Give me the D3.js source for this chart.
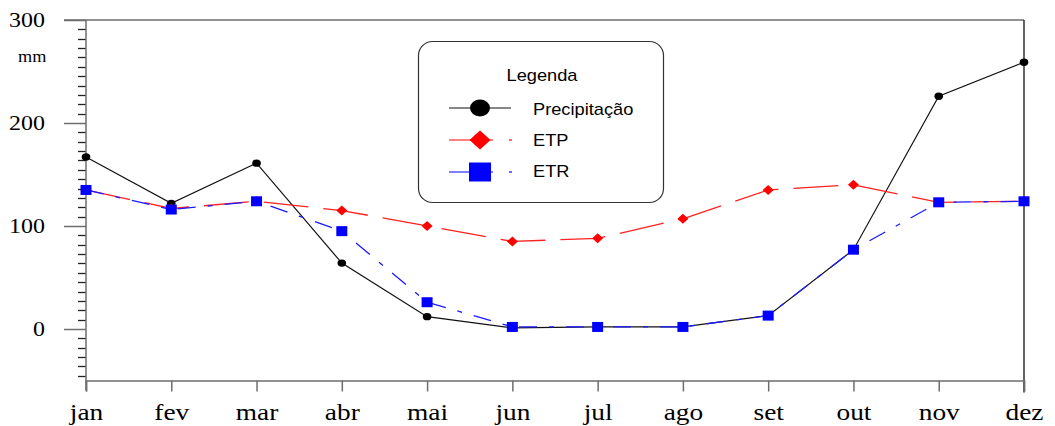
<!DOCTYPE html>
<html><head><meta charset="utf-8">
<script src="https://cdn.jsdelivr.net/npm/d3@7"></script>
<style>body{margin:0;background:#fff}svg{display:block}</style>
</head><body>
<svg id="c" width="1055" height="426"></svg>
<script>
const months = ["jan","fev","mar","abr","mai","jun","jul","ago","set","out","nov","dez"];
const precipitacao = [167,122,161,64,12,1,2,2,13,77,226,259];
const etp = [135,117,124,115,100,85,88,107,135,140,123,124];
const etr = [135,116,124,95,26,2,2,2,13,77,123,124];
const yTicks = [0,100,200,300];
const yUnit = "mm";
const legendTitle = "Legenda";
const seriesNames = ["Precipitação","ETP","ETR"];

const svg = d3.select("#c");
const x = d3.scalePoint().domain(months).range([86,1024]);
const y = d3.scaleLinear().domain([-50,300]).range([380.5,20]);
const axisCol = "#6e6e6e";
const serif = "'Liberation Serif','Times New Roman',serif";
const sans = "'Liberation Sans',Arial,sans-serif";
const SX = 1.14;

// frame lines
svg.append("line").attr("x1",64).attr("x2",1024).attr("y1",y(300)).attr("y2",y(300)).attr("stroke",axisCol).attr("stroke-width",1.5);
svg.append("line").attr("x1",1024).attr("x2",1024).attr("y1",y(300)).attr("y2",y(-50)+12).attr("stroke","#111").attr("stroke-width",1.3);

// left axis
const gy = svg.append("g").attr("transform","translate(86,0)")
  .call(d3.axisLeft(y).tickValues(yTicks).tickSize(22).tickFormat(d3.format("d")));
gy.select(".domain").remove();
gy.selectAll(".tick line").attr("stroke",axisCol).attr("stroke-width",1.5);
gy.selectAll(".tick text").attr("x",-41/SX).attr("transform",`scale(${SX},1)`)
  .attr("font-family",serif).attr("font-size",21).attr("fill","#000");
const step = 100/11;
const minor = [];
for (let k=-5; k<=33; k++) { const v = k*step; if (v>-50 && v<300 && k%11!==0) minor.push(v); }
svg.append("g").selectAll("line").data(minor).join("line")
  .attr("x1",78).attr("x2",86).attr("y1",d=>Math.round(y(d))+0.5).attr("y2",d=>Math.round(y(d))+0.5)
  .attr("stroke","#222").attr("stroke-width",1.3);
svg.append("line").attr("x1",86).attr("x2",86).attr("y1",y(300)).attr("y2",y(-50)+10).attr("stroke",axisCol).attr("stroke-width",1.5);
svg.append("text").attr("transform",`translate(18,62) scale(${SX},1)`).attr("font-family",serif).attr("font-size",16).text(yUnit);

// bottom axis
const gx = svg.append("g").attr("transform",`translate(0,${y(-50)})`)
  .call(d3.axisBottom(x).tickSize(11));
gx.select(".domain").attr("stroke",axisCol).attr("stroke-width",1.5);
gx.selectAll(".tick line").attr("stroke",axisCol).attr("stroke-width",1.5);
gx.selectAll(".tick text").attr("y",39.5).attr("dy",0).attr("transform",`scale(${SX},1)`)
  .attr("font-family",serif).attr("font-size",24).attr("fill","#000");

// lines
const line = d3.line().x((d,i)=>x(months[i])).y(d=>y(d));
svg.append("path").datum(precipitacao).attr("d",line).attr("fill","none").attr("stroke","#111").attr("stroke-width",1.2);
svg.append("path").datum(etp).attr("d",line).attr("fill","none").attr("stroke","#ff2020").attr("stroke-width",1.3).attr("stroke-dasharray","45,15");
svg.append("path").datum(etr).attr("d",line).attr("fill","none").attr("stroke","#1a1aff").attr("stroke-width",1.3).attr("stroke-dasharray","18,12,5,12");

// markers
svg.append("g").selectAll("ellipse").data(precipitacao).join("ellipse")
  .attr("cx",(d,i)=>x(months[i])).attr("cy",d=>y(d)).attr("rx",4.3).attr("ry",3.7).attr("fill","#000");
svg.append("g").selectAll("path").data(etp).join("path")
  .attr("transform",(d,i)=>`translate(${x(months[i])},${y(d)})`).attr("d","M0,-5L5.5,0L0,5L-5.5,0Z").attr("fill","#ff0000");
svg.append("g").selectAll("rect").data(etr).join("rect")
  .attr("x",(d,i)=>x(months[i])-5.5).attr("y",d=>y(d)-5).attr("width",11).attr("height",10).attr("fill","#0000ff");

// legend
const lg = svg.append("g");
lg.append("rect").attr("x",418.5).attr("y",41.5).attr("width",245).attr("height",161).attr("rx",14)
  .attr("fill","#fff").attr("stroke","#333").attr("stroke-width",1.2);
lg.append("text").attr("transform",`translate(542,80.5) scale(${SX},1)`).attr("text-anchor","middle")
  .attr("font-family",sans).attr("font-size",16).text(legendTitle);
const ly = [108,140,172];
const by = [114.5,146,177];
const cols = ["#111","#ff0000","#0000ff"];
lg.append("line").attr("x1",449).attr("x2",511).attr("y1",ly[0]).attr("y2",ly[0]).attr("stroke",cols[0]).attr("stroke-width",1.2);
lg.append("ellipse").attr("cx",480).attr("cy",ly[0]).attr("rx",10).attr("ry",8.5).attr("fill","#000");
[1,2].forEach(i=>{
  lg.append("line").attr("x1",449).attr("x2",493).attr("y1",ly[i]).attr("y2",ly[i]).attr("stroke",cols[i]).attr("stroke-width",1.2);
  lg.append("line").attr("x1",509).attr("x2",512).attr("y1",ly[i]).attr("y2",ly[i]).attr("stroke",cols[i]).attr("stroke-width",1.2);
});
lg.append("path").attr("transform",`translate(480,${ly[1]})`).attr("d","M0,-9.5L10.5,0L0,9.5L-10.5,0Z").attr("fill","#ff0000");
lg.append("rect").attr("x",469).attr("y",ly[2]-9.5).attr("width",22).attr("height",19).attr("fill","#0000ff");
seriesNames.forEach((n,i)=>{
  lg.append("text").attr("transform",`translate(533,${by[i]}) scale(${SX},1)`)
    .attr("font-family",sans).attr("font-size",16).text(n);
});
</script>
</body></html>
